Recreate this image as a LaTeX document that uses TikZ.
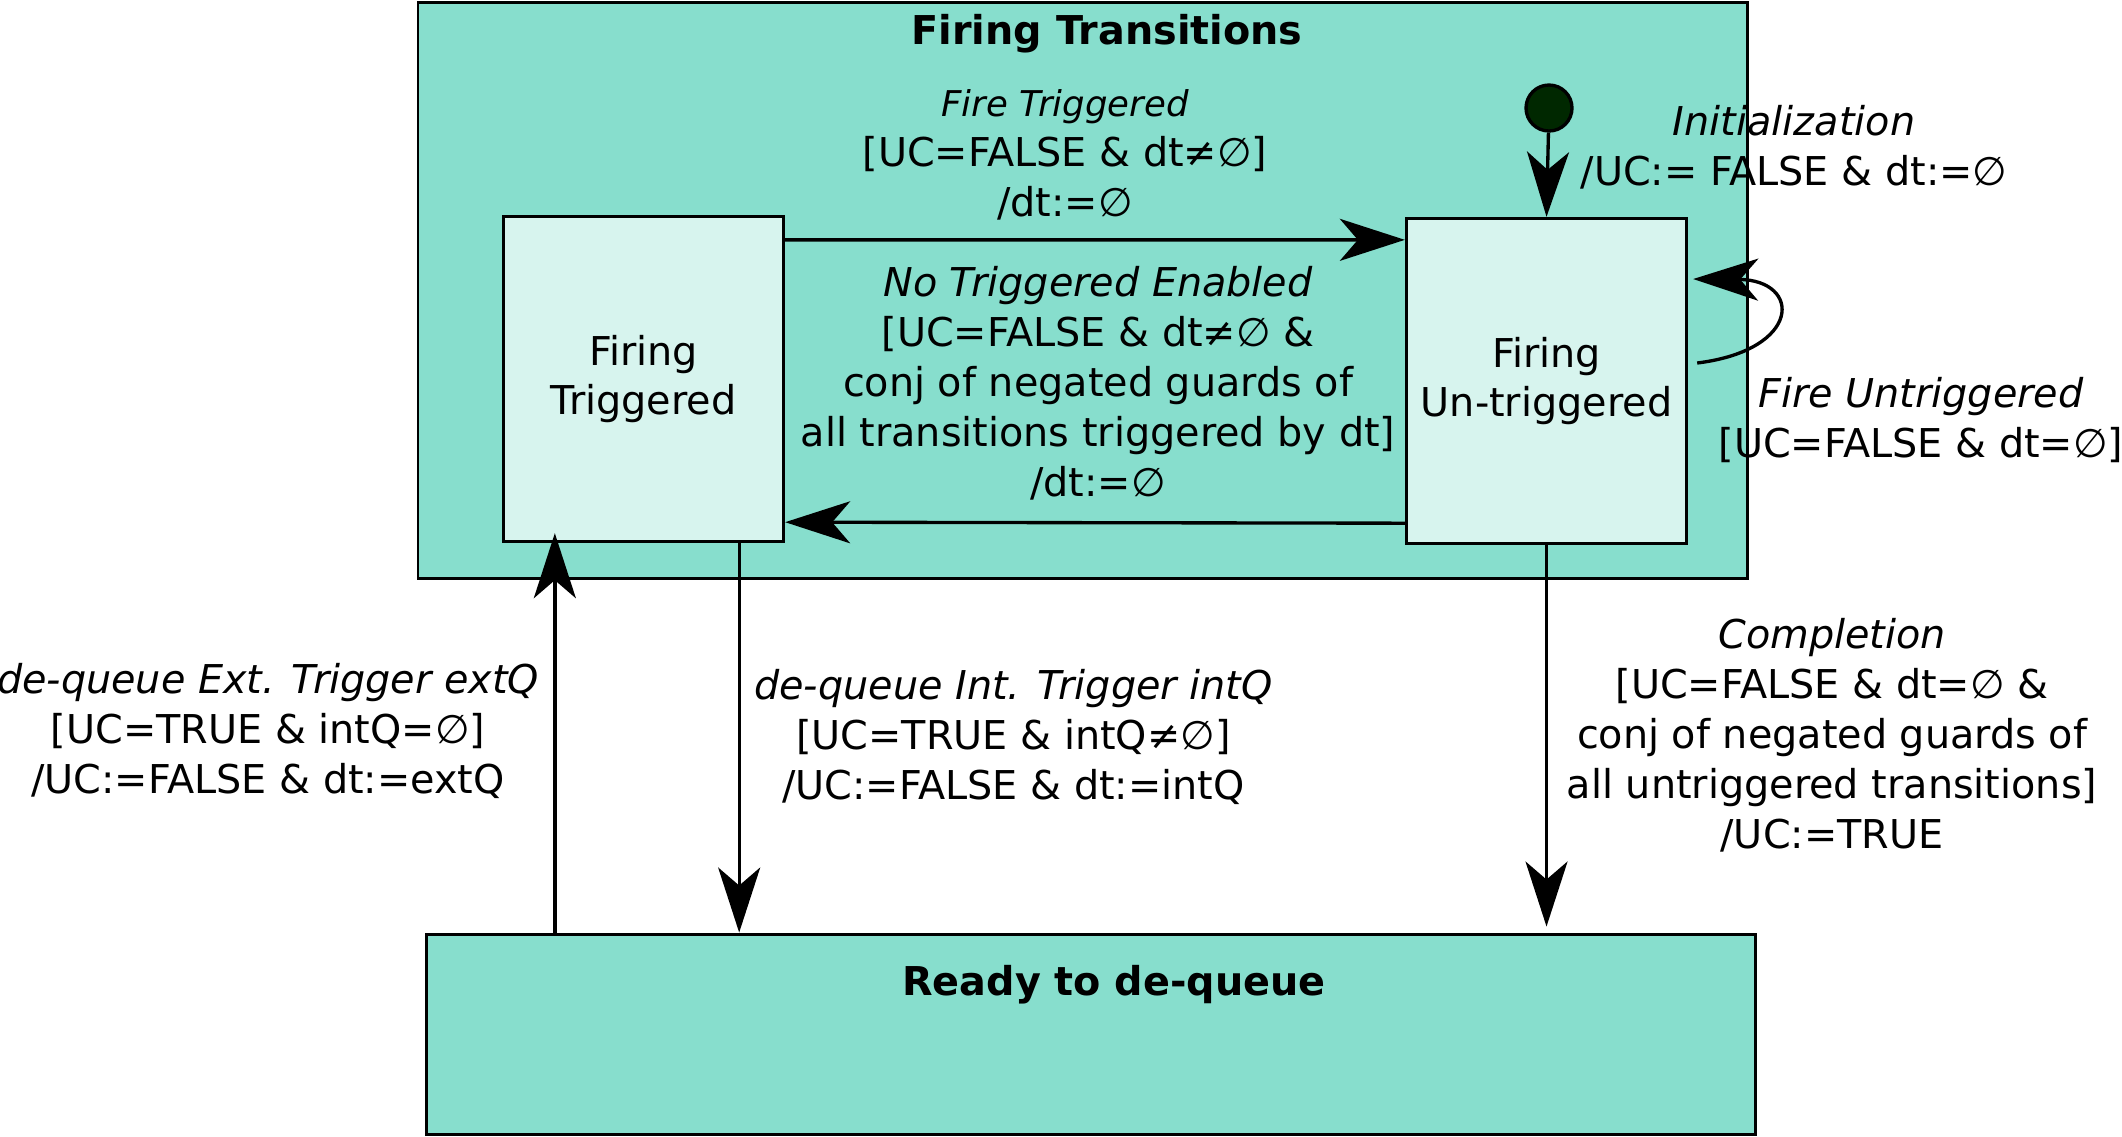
\documentclass[tikz,border=0pt]{standalone}
\usepackage{fontspec}
\setmainfont{DejaVu Sans}
\usetikzlibrary{arrows.meta, positioning}
\definecolor{stateteal}{HTML}{87DECD}
\definecolor{statelight}{HTML}{D7F4EE}
\definecolor{initgreen}{HTML}{002800}

\begin{document}
\begin{tikzpicture}[
font=\fontsize{11.3}{14.2}\selectfont,
superstate/.style={draw, line width=0.85pt, fill=stateteal, minimum width=13.29cm, inner sep=0},
substate/.style={draw, line width=0.95pt, fill=statelight, align=center, minimum width=2.8cm, minimum height=3.25cm, inner sep=0},
trans/.style={line width=0.95pt, -{Stealth[length=6.5mm, width=4.2mm, inset=1.8mm]}},
lbl/.style={align=center, inner sep=0}]

\useasboundingbox (0,0) rectangle (21.22,-11.36);

\node[superstate, minimum height=5.76cm] (fire) at (10.825,-2.90) {};
\node[superstate, minimum height=2.0cm] (ready) at (10.905,-10.34) {};
\node[font=\fontsize{11.3}{14.2}\selectfont\bfseries] (firetitle) at (11.07,-0.34) {Firing Transitions};
\node[font=\fontsize{11.3}{14.2}\selectfont\bfseries] (readytitle) at (11.14,-9.85) {Ready to de-queue};

\node[substate] (trig) at (6.435,-3.79) {Firing\\Triggered};
\node[substate] (untrig) at (15.465,-3.81) {Firing\\Un-triggered};
\node[circle, draw, line width=0.95pt, fill=initgreen, minimum size=0.46cm, inner sep=0] (init) at (15.49,-1.08) {};

\draw[trans] (init) -- (untrig.north);
\draw[trans] ([yshift=-0.25cm]trig.north east) -- ([yshift=-0.23cm]untrig.north west);
\draw[trans] ([yshift=0.22cm]untrig.south west) -- ([yshift=0.21cm]trig.south east);
\draw[trans] ([shift={(0.09,0.18)}]untrig.east) .. controls +(1.05,0.13) and +(1.09,-0.01) .. ([shift={(0.05,1.02)}]untrig.east);

\draw[trans] ([xshift=0.53cm]trig.south west |- ready.north) -- ([xshift=0.53cm,yshift=0.1cm]trig.south west);
\draw[trans] ([xshift=-0.46cm]trig.south east) -- ([xshift=-0.46cm]trig.south east |- ready.north);
\draw[trans] (untrig.south) -- ([yshift=0.06cm]untrig.south |- ready.north);

\node[lbl] (trigtext) at (10.65,-1.55) {{\fontsize{10.1}{14.2}\selectfont\itshape Fire Triggered}\\{[}UC=FALSE \& dt≠∅]\\/dt:=∅};
\node[lbl] (notrigtext) at (10.98,-3.83) {\textit{No Triggered Enabled}\\{[}UC=FALSE \& dt≠∅ \&\\conj of negated guards of\\all transitions triggered by dt]\\/dt:=∅};
\node[lbl] (inittext) at (17.94,-1.47) {\textit{Initialization}\\/UC:= FALSE \& dt:=∅};
\node[lbl] (untrigtext) at (19.21,-4.20) {\textit{Fire Untriggered}\\{[}UC=FALSE \& dt=∅]};
\node[lbl] (exttext) at (2.68,-7.31) {\textit{de-queue Ext. Trigger extQ}\\{[}UC=TRUE \& intQ=∅]\\/UC:=FALSE \& dt:=extQ};
\node[lbl] (inttext) at (10.135,-7.37) {\textit{de-queue Int. Trigger intQ}\\{[}UC=TRUE \& intQ≠∅]\\/UC:=FALSE \& dt:=intQ};
\node[lbl] (compltext) at (18.32,-7.355) {\textit{Completion}\\{[}UC=FALSE \& dt=∅ \&\\conj of negated guards of\\all untriggered transitions]\\/UC:=TRUE};

\end{tikzpicture}
\end{document}
